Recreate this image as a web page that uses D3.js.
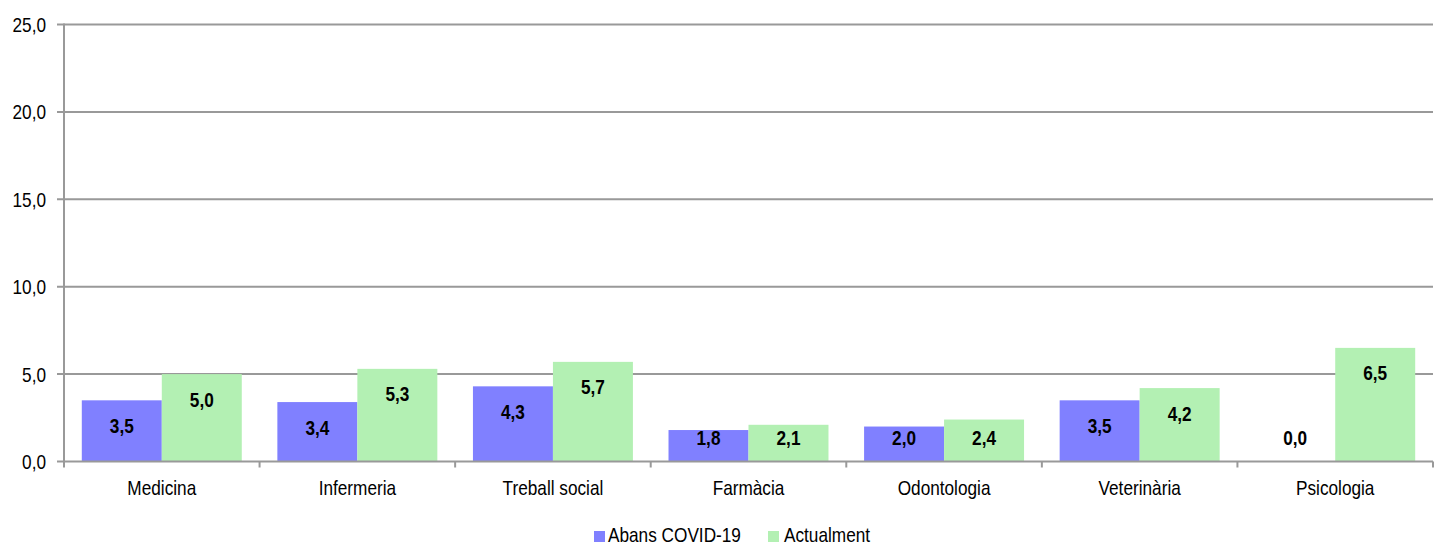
<!DOCTYPE html>
<html><head><meta charset="utf-8">
<script src="https://cdn.jsdelivr.net/npm/d3@7"></script>
<style>
body{margin:0;background:#fff;}
svg text{font-family:"Liberation Sans",Arial,sans-serif;}
</style></head>
<body><svg id="c" width="1437" height="545"></svg>
<script>
const categories = ["Medicina","Infermeria","Treball social","Farmàcia","Odontologia","Veterinària","Psicologia"];
const seriesNames = ["Abans COVID-19","Actualment"];
const abans = [3.5,3.4,4.3,1.8,2.0,3.5,0.0];
const actualment = [5.0,5.3,5.7,2.1,2.4,4.2,6.5];
const yTicks = [0,5,10,15,20,25];
const colors = ["#8080ff","#b3f0b3"];

const svg = d3.select("#c");
const L=64, R=1433, T=24.5, B=461.5;
const SX = 0.82; // narrow font emulation
const x0 = d3.scaleBand().domain(categories).range([L,R]).padding(0);
const x1 = d3.scaleBand().domain(seriesNames).range([0,x0.bandwidth()]).paddingInner(0).paddingOuter(0.2225);
const y = d3.scaleLinear().domain([0,25]).range([B,T]);
const fmt = v => d3.format(".1f")(v).replace(".",",");
const grid = "#999";

function txt(parent, x, yy, s, anchor, size, bold){
  return parent.append("text")
    .attr("transform",`translate(${x},${yy}) scale(${SX},1)`)
    .attr("text-anchor",anchor).attr("font-size",size)
    .attr("font-weight",bold?"bold":"normal").attr("fill","#000").text(s);
}

// gridlines
svg.append("g").selectAll("line").data(yTicks.filter(d=>d>0)).join("line")
  .attr("x1",L-7).attr("x2",R).attr("y1",d=>y(d)).attr("y2",d=>y(d))
  .attr("stroke",grid).attr("stroke-width",2);

// bars
const data = [abans, actualment];
const g = svg.append("g");
categories.forEach((c,i)=>{
  seriesNames.forEach((s,j)=>{
    const v = data[j][i];
    g.append("rect").attr("x",x0(c)+x1(s)).attr("width",x1.bandwidth())
      .attr("y",y(v)).attr("height",y(0)-y(v)).attr("fill",colors[j]);
  });
});
// labels
categories.forEach((c,i)=>{
  seriesNames.forEach((s,j)=>{
    const v = data[j][i];
    const cy = Math.min(y(v)+25, 437);
    txt(g, x0(c)+x1(s)+x1.bandwidth()/2, cy+7.5, fmt(v), "middle", 21, true);
  });
});

// y axis line
svg.append("line").attr("x1",L).attr("x2",L).attr("y1",T-1).attr("y2",B+1).attr("stroke",grid).attr("stroke-width",2);
// x axis line
svg.append("line").attr("x1",L-7).attr("x2",R).attr("y1",B).attr("y2",B).attr("stroke",grid).attr("stroke-width",2);
// x ticks at boundaries
const bounds = categories.map(c=>x0(c)).concat([R]);
svg.append("g").selectAll("line").data(bounds).join("line")
  .attr("x1",d=>d).attr("x2",d=>d).attr("y1",B).attr("y2",B+6).attr("stroke",grid).attr("stroke-width",2);

// y tick labels
const yl = svg.append("g");
yTicks.forEach(d=>txt(yl, 46, y(d)+7.5, fmt(d), "end", 21, false));
// category labels
const cl = svg.append("g");
categories.forEach(c=>txt(cl, x0(c)+x0.bandwidth()/2, 495, c, "middle", 21, false));

// legend
const leg = [{n:seriesNames[0],x:594,tx:608},{n:seriesNames[1],x:768,tx:784}];
const lg = svg.append("g");
leg.forEach((l,j)=>{
  lg.append("rect").attr("x",l.x).attr("y",531).attr("width",11).attr("height",11).attr("fill",colors[j]);
  txt(lg, l.tx, 541.5, l.n, "start", 21, false);
});
</script></body></html>
